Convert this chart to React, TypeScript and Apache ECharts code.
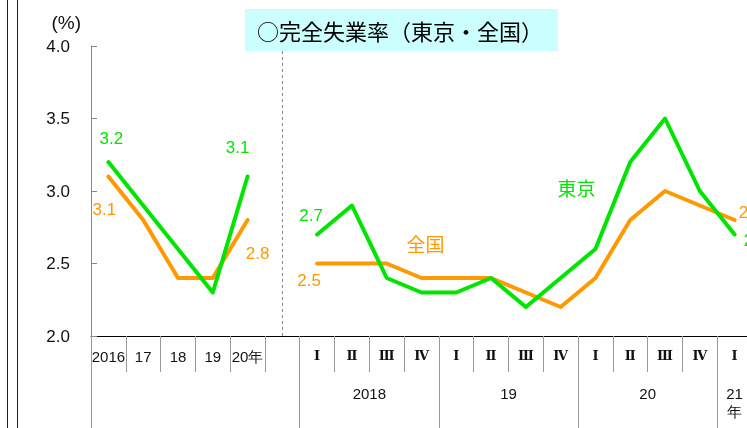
import { useEffect, useRef } from 'react';
import * as echarts from 'echarts';

// ---- data ----
const categories = ['2016', '17', '18', '19', '20年', '', 'Ⅰ', 'Ⅱ', 'Ⅲ', 'Ⅳ', 'Ⅰ', 'Ⅱ', 'Ⅲ', 'Ⅳ', 'Ⅰ', 'Ⅱ', 'Ⅲ', 'Ⅳ', 'Ⅰ'];
const tokyo = [3.2, 2.9, 2.6, 2.3, 3.1, null, 2.7, 2.9, 2.4, 2.3, 2.3, 2.4, 2.2, 2.4, 2.6, 3.2, 3.5, 3.0, 2.7];
const national = [3.1, 2.8, 2.4, 2.4, 2.8, null, 2.5, 2.5, 2.5, 2.4, 2.4, 2.4, 2.3, 2.2, 2.4, 2.8, 3.0, 2.9, 2.8];
const yearGroupLabels = ['2018', '19', '20', '21\n年'];
const yearGroupStart = [6, 10, 14, 18];
const yearGroupSpan = [4, 4, 4, 1];
const yTicks = [2.0, 2.5, 3.0, 3.5, 4.0];
const titleText = '○完全失業率（東京・全国）';
const tokyoName = '東京';
const nationalName = '全国';

// ---- label placement (style) ----
const tokyoLabels = [
  { index: 0, offset: [3, -24] },
  { index: 4, offset: [-10, -29] },
  { index: 6, offset: [-6, -19] },
  { index: 14, offset: [-19, -62], name: true },
  { index: 18, offset: [21, 6] },
];
const nationalLabels = [
  { index: 0, offset: [-4, 33] },
  { index: 4, offset: [10, 33] },
  { index: 6, offset: [-8, 17] },
  { index: 9, offset: [4, -35], name: true },
  { index: 18, offset: [16, -8] },
];

const GREEN = '#00E400';
const ORANGE = '#FF9900';

function buildData(vals: (number | null)[], labels: any[], name: string, color: string) {
  return vals.map((v, i) => {
    const l = labels.find((x) => x.index === i);
    if (!l || v == null) return v;
    return {
      value: v,
      label: {
        show: true,
        position: 'inside',
        offset: l.offset,
        color,
        fontFamily: l.name ? 'Noto Sans CJK JP' : 'Liberation Sans',
        fontSize: l.name ? 19 : 17,
        formatter: () => (l.name ? name : (v as number).toFixed(1)),
      },
    };
  });
}

export default function App() {
  const ref = useRef<HTMLDivElement>(null);
  useEffect(() => {
    if (!ref.current) return;
    const chart = echarts.init(ref.current, null, { renderer: 'svg' });

    const n2 = categories.length * 2 + 1;
    const groupAxisData = Array.from({ length: n2 }, (_, i) => 'k' + i);
    const tickIdx = [0, ...yearGroupStart.map((s) => s * 2)];
    const labelIdx = yearGroupStart.map((s, j) => s * 2 + yearGroupSpan[j]);
    const isRoman = (v: string) => /^[ⅠⅡⅢⅣ]$/.test(v);

    chart.setOption({
      animation: false,
      title: {
        text: titleText,
        left: 245,
        top: 9,
        backgroundColor: '#CCFFFF',
        padding: [8, 15, 8, 12],
        textStyle: {
          fontFamily: 'Noto Sans CJK JP',
          fontSize: 22,
          fontWeight: 'normal',
          color: '#000',
          lineHeight: 26,
        },
        z: 20,
      },
      graphic: [
        { type: 'line', shape: { x1: 7.5, y1: 0, x2: 7.5, y2: 428 }, style: { stroke: '#222', lineWidth: 1 } },
        { type: 'line', shape: { x1: 17.5, y1: 0, x2: 17.5, y2: 428 }, style: { stroke: '#222', lineWidth: 1 } },
      ],
      grid: { left: 91, top: 46, width: 661, height: 290, containLabel: false, outerBoundsMode: 'none' },
      xAxis: [
        {
          type: 'category',
          data: categories,
          position: 'bottom',
          boundaryGap: true,
          axisLine: { show: true, lineStyle: { color: '#000', width: 1 } },
          axisTick: { show: true, interval: 0, length: 36, lineStyle: { color: '#999' } },
          axisLabel: {
            interval: 0,
            margin: 13,
            formatter: (v: string) => (isRoman(v) ? `{r|${v}}` : `{a|${v}}`),
            rich: {
              a: { fontFamily: 'Liberation Sans', fontSize: 15, color: '#111' },
              r: { fontFamily: 'DejaVu Serif', fontWeight: 'bold', fontSize: 13, color: '#111' },
            },
          },
          splitLine: { show: false },
        },
        {
          type: 'category',
          data: groupAxisData,
          position: 'bottom',
          boundaryGap: false,
          axisLine: { show: false },
          axisTick: {
            show: true,
            interval: (i: number) => tickIdx.includes(i),
            length: 92,
            lineStyle: { color: '#999' },
          },
          axisLabel: {
            interval: (i: number) => labelIdx.includes(i),
            formatter: (_v: string, i: number) => {
              const j = labelIdx.indexOf(i);
              return j >= 0 ? yearGroupLabels[j] : '';
            },
            margin: 48,
            fontFamily: 'Liberation Sans',
            fontSize: 15,
            lineHeight: 18,
            color: '#111',
          },
          splitLine: { show: false },
        },
      ],
      yAxis: {
        type: 'value',
        min: yTicks[0],
        max: yTicks[yTicks.length - 1],
        interval: 0.5,
        name: '(%)',
        nameLocation: 'end',
        nameGap: 14,
        nameTextStyle: {
          fontFamily: 'Liberation Sans',
          fontSize: 19,
          color: '#111',
          align: 'right',
          padding: [0, 10, 0, 0],
        },
        axisLine: { show: true, lineStyle: { color: '#888' } },
        axisTick: { show: true, inside: true, length: 6, lineStyle: { color: '#888' } },
        axisLabel: {
          margin: 21,
          fontFamily: 'Liberation Sans',
          fontSize: 17,
          color: '#111',
          formatter: (v: number) => v.toFixed(1),
        },
        splitLine: { show: false },
      },
      series: [
        {
          name: nationalName,
          type: 'line',
          xAxisIndex: 0,
          data: buildData(national, nationalLabels, nationalName, ORANGE),
          symbol: 'circle',
          symbolSize: 2,
          showSymbol: true,
          showAllSymbol: true,
          connectNulls: false,
          itemStyle: { color: ORANGE },
          lineStyle: { color: ORANGE, width: 4, join: 'round', cap: 'round' },
          label: { show: false },
          emphasis: { disabled: true },
          markLine: {
            silent: true,
            symbol: ['none', 'none'],
            label: { show: false },
            lineStyle: { type: [3, 3], color: '#888', width: 1 },
            data: [{ xAxis: 5 }],
          },
          z: 2,
        },
        {
          name: tokyoName,
          type: 'line',
          xAxisIndex: 0,
          data: buildData(tokyo, tokyoLabels, tokyoName, GREEN),
          symbol: 'circle',
          symbolSize: 2,
          showSymbol: true,
          showAllSymbol: true,
          connectNulls: false,
          itemStyle: { color: GREEN },
          lineStyle: { color: GREEN, width: 4, join: 'round', cap: 'round' },
          label: { show: false },
          emphasis: { disabled: true },
          z: 3,
        },
      ],
    });
    return () => chart.dispose();
  }, []);
  return <div ref={ref} style={{ position: 'fixed', left: 0, top: 0, width: 747, height: 428 }} />;
}
